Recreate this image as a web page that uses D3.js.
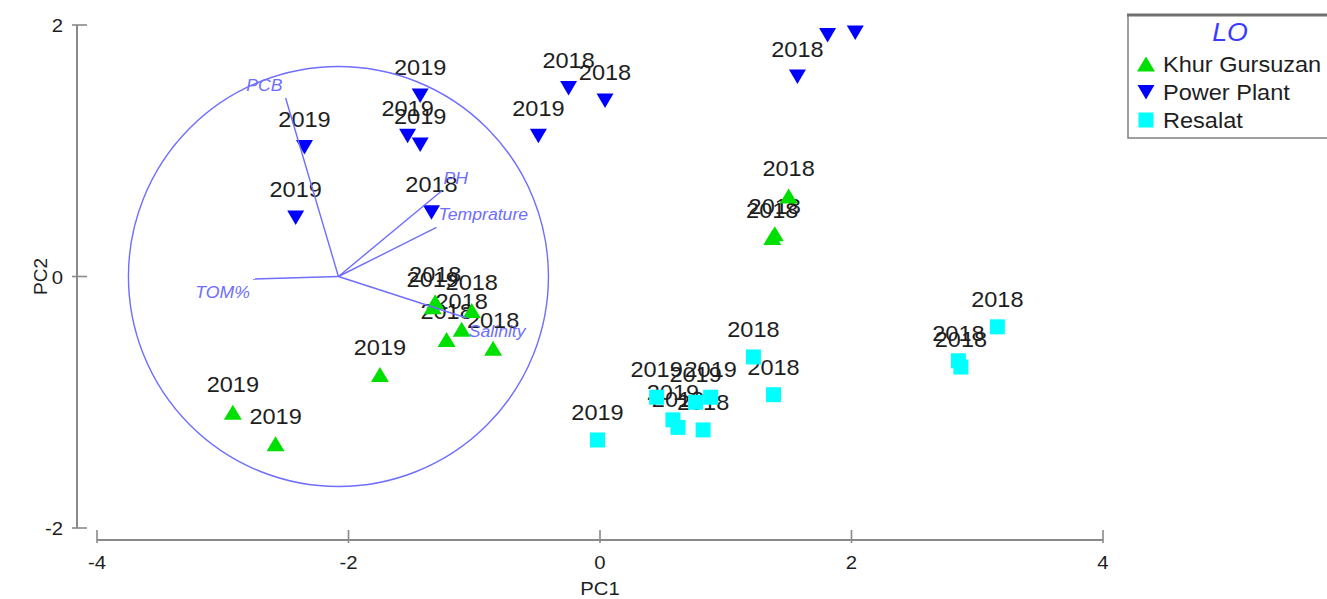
<!DOCTYPE html>
<html>
<head>
<meta charset="utf-8">
<script src="https://cdn.jsdelivr.net/npm/d3@7"></script>
<style>
  html, body { margin: 0; padding: 0; background: #fff; }
  svg { display: block; }
  text { font-family: "Liberation Sans", Arial, sans-serif; }
</style>
</head>
<body>
<svg id="chart" width="1327" height="599"></svg>
<script>
// ---- Sample scores (PC1, PC2) per location, with sampling year ----
const locations = ["Khur Gursuzan", "Power Plant", "Resalat"];

const khurPC1  = [1.50, 1.37, 1.39, -1.31, -1.33, -1.02, -1.10, -1.22, -0.85, -1.75, -2.92, -2.58];
const khurPC2  = [0.64, 0.31, 0.34, -0.20, -0.24, -0.27, -0.42, -0.50, -0.57, -0.78, -1.08, -1.33];
const khurYear = ["2018", "2018", "2018", "2018", "2019", "2018", "2018", "2018", "2018", "2019", "2019", "2019"];

const plantPC1  = [-2.42, -2.35, -1.43, -1.53, -1.43, -1.34, -0.49, -0.25, 0.04, 1.57, 1.81, 2.03];
const plantPC2  = [0.47, 1.03, 1.44, 1.12, 1.05, 0.51, 1.12, 1.50, 1.40, 1.59, 1.92, 1.94];
const plantYear = ["2019", "2019", "2019", "2019", "2019", "2018", "2019", "2018", "2018", "2018", "2018", "2018"];

const resalatPC1  = [-0.02, 0.45, 0.76, 0.88, 0.58, 0.62, 0.82, 1.22, 1.38, 3.16, 2.85, 2.87];
const resalatPC2  = [-1.30, -0.96, -1.00, -0.96, -1.14, -1.20, -1.22, -0.64, -0.94, -0.40, -0.67, -0.72];
const resalatYear = ["2019", "2019", "2019", "2019", "2019", "2018", "2018", "2018", "2018", "2018", "2018", "2018"];

// ---- Biplot: variable loadings drawn from the circle centre ----
const variables = ["PCB", "PH", "Temprature", "TOM%", "Salinity"];
const loadPC1 = [-0.42, 0.82, 0.78, -0.68, 1.02];
const loadPC2 = [1.42, 0.68, 0.39, -0.02, -0.33];
const biplotCentre = [-2.08, 0.0];
const biplotRadius = 1.67;

// ---- Axis ticks ----
const xTicks = [-4, -2, 0, 2, 4];
const yTicks = [-2, 0, 2];

// ---- Styling ----
const colours = { "Khur Gursuzan": "#00e000", "Power Plant": "#0000ff", "Resalat": "#00ffff" };
const shapes  = { "Khur Gursuzan": "up", "Power Plant": "down", "Resalat": "square" };
const biplotColour = "#6e6eff";
const axisColour = "#8a8a8a";
const textColour = "#1e1e1e";
const stretch = 1.07;   // slightly wide lettering

const series = [
  { name: locations[0], pc1: khurPC1, pc2: khurPC2, year: khurYear },
  { name: locations[1], pc1: plantPC1, pc2: plantPC2, year: plantYear },
  { name: locations[2], pc1: resalatPC1, pc2: resalatPC2, year: resalatYear }
];

const svg = d3.select("#chart");

const x = d3.scaleLinear().domain([-4, 4]).range([97, 1103]);
const y = d3.scaleLinear().domain([-2, 2]).range([528, 25]);
const unit = x(1) - x(0);

// place a text element with a slight horizontal stretch
function put(sel, px, py) {
  return sel.attr("transform", `translate(${px},${py}) scale(${stretch},1)`);
}

function markerPath(shape) {
  if (shape === "up")   return "M0,-7.5L9,7.5L-9,7.5Z";
  if (shape === "down") return "M-8.5,-7L8.5,-7L0,7.5Z";
  return "M-7.5,-7.5H7.5V7.5H-7.5Z";
}

// ---- Axes ----
const xAxisY = 540;
const axisX = 77;

const gx = svg.append("g");
gx.append("line").attr("x1", x(-4)).attr("x2", x(4)).attr("y1", xAxisY).attr("y2", xAxisY)
  .attr("stroke", axisColour).attr("stroke-width", 2);
gx.selectAll("line.tick").data(xTicks).join("line").attr("class", "tick")
  .attr("x1", d => x(d)).attr("x2", d => x(d)).attr("y1", xAxisY - 10).attr("y2", xAxisY + 3)
  .attr("stroke", axisColour).attr("stroke-width", 1.6);
gx.selectAll("text").data(xTicks).join("text")
  .each(function (d) { put(d3.select(this), x(d), 569); })
  .attr("text-anchor", "middle").attr("font-size", 19).attr("fill", textColour)
  .text(d => d);

const gy = svg.append("g");
gy.append("line").attr("x1", axisX).attr("x2", axisX).attr("y1", y(2)).attr("y2", y(-2))
  .attr("stroke", axisColour).attr("stroke-width", 2);
gy.selectAll("line.tick").data(yTicks).join("line").attr("class", "tick")
  .attr("x1", axisX - 5).attr("x2", axisX + 10).attr("y1", d => y(d)).attr("y2", d => y(d))
  .attr("stroke", axisColour).attr("stroke-width", 1.6);
gy.selectAll("text").data(yTicks).join("text")
  .each(function (d) { put(d3.select(this), 63, y(d) + 7); })
  .attr("text-anchor", "end").attr("font-size", 19).attr("fill", textColour)
  .text(d => d);

put(svg.append("text"), x(0), 595).attr("text-anchor", "middle")
  .attr("font-size", 19).attr("fill", textColour).text("PC1");
svg.append("text").attr("transform", `translate(47,${y(0)}) rotate(-90)`)
  .attr("text-anchor", "middle").attr("font-size", 19).attr("fill", textColour).text("PC2");

// ---- Points ----
const points = series.flatMap(s => s.pc1.map((v, i) => ({
  name: s.name, pc1: v, pc2: s.pc2[i], year: s.year[i]
})));

// year labels sit above each marker; those that would rise past the frame top are left out
const labelled = points.filter(d => y(d.pc2) - 20 - 16 >= 8);
svg.append("g")
  .selectAll("text").data(labelled).join("text")
  .each(function (d) { put(d3.select(this), x(d.pc1), y(d.pc2) - 20); })
  .attr("text-anchor", "middle").attr("font-size", 22).attr("fill", textColour)
  .text(d => d.year);

svg.append("g").selectAll("path").data(points).join("path")
  .attr("transform", d => `translate(${x(d.pc1)},${y(d.pc2)})`)
  .attr("d", d => markerPath(shapes[d.name]))
  .attr("fill", d => colours[d.name]);

// ---- Biplot circle and loading vectors ----
const cx = x(biplotCentre[0]), cy = y(biplotCentre[1]);
const gb = svg.append("g");
gb.append("circle").attr("cx", cx).attr("cy", cy).attr("r", biplotRadius * unit)
  .attr("fill", "none").attr("stroke", biplotColour).attr("stroke-width", 1.4);

const vectors = variables.map((v, i) => ({
  name: v,
  ex: x(biplotCentre[0] + loadPC1[i]),
  ey: y(biplotCentre[1] + loadPC2[i]),
  right: loadPC1[i] > 0,
  up: loadPC2[i] > 0
}));

gb.selectAll("line").data(vectors).join("line")
  .attr("x1", cx).attr("y1", cy).attr("x2", d => d.ex).attr("y2", d => d.ey)
  .attr("stroke", biplotColour).attr("stroke-width", 1.4);

gb.selectAll("text").data(vectors).join("text")
  .each(function (d) {
    put(d3.select(this), d.right ? d.ex + 2 : d.ex - 3, (d.up ? d.ey - 13 : d.ey + 13) + 6);
  })
  .attr("text-anchor", d => d.right ? "start" : "end")
  .attr("font-size", 16.5).attr("font-style", "italic").attr("fill", biplotColour)
  .text(d => d.name);

// ---- Legend ----
const lg = svg.append("g");
lg.append("rect").attr("x", 1128).attr("y", 15).attr("width", 240).attr("height", 123)
  .attr("fill", "#fff").attr("stroke", "#808080").attr("stroke-width", 1.5);
lg.append("line").attr("x1", 1127).attr("x2", 1327).attr("y1", 15).attr("y2", 15)
  .attr("stroke", "#707070").attr("stroke-width", 3);
put(lg.append("text"), 1230, 41).attr("text-anchor", "middle")
  .attr("font-size", 25).attr("font-style", "italic").attr("fill", "#3b3bff").text("LO");

const rows = lg.selectAll("g.row").data(locations).join("g").attr("class", "row")
  .attr("transform", (d, i) => `translate(1146,${64 + i * 28})`);
rows.append("path").attr("d", d => markerPath(shapes[d])).attr("fill", d => colours[d]);
rows.append("text")
  .attr("transform", `translate(17,8) scale(${stretch},1)`)
  .attr("font-size", 22).attr("fill", textColour).text(d => d);
</script>
</body>
</html>
